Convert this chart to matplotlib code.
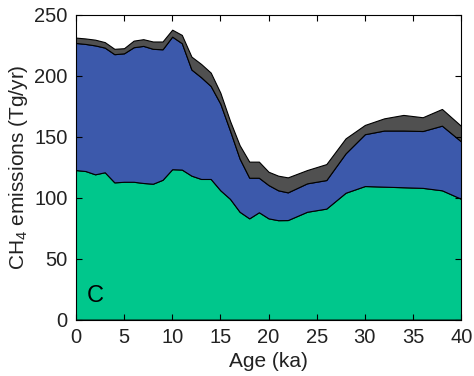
import numpy as np
import matplotlib.pyplot as plt

plt.rcParams['font.family'] = ['Liberation Sans', 'DejaVu Sans']
plt.rcParams['mathtext.fontset'] = 'custom'
plt.rcParams['mathtext.rm'] = 'Liberation Sans'

# age in ka
age = [0, 1, 2, 3, 4, 5, 6, 7, 8, 9, 10, 11, 12, 13, 14, 15, 16, 17, 18, 19,
       20, 21, 22, 24, 26, 28, 30, 32, 34, 36, 38, 40]

# cumulative CH4 emissions (Tg/yr) for each layer
green_top = [122.6, 121.8, 119.1, 120.8, 112.5, 113.0, 113.0, 112.0, 111.4, 114.6,
             123.3, 123.0, 118.0, 115.3, 115.3, 106.0, 99.0, 88.4, 83.0, 88.0,
             83.0, 81.5, 81.6, 88.4, 91.0, 104.0, 109.5, 109.0, 108.5, 108.0,
             106.0, 99.0]
blue_top = [226.8, 226.0, 224.8, 223.0, 217.6, 218.3, 223.3, 224.4, 222.0, 221.6,
            232.0, 226.6, 205.0, 198.7, 191.5, 177.0, 155.0, 132.0, 116.3, 116.3,
            110.3, 106.0, 104.3, 111.7, 114.4, 136.3, 152.0, 155.0, 155.0, 154.6,
            159.0, 146.0]
total = [231.2, 230.5, 229.5, 227.5, 222.0, 222.5, 228.7, 229.9, 228.0, 228.0,
         237.7, 233.4, 215.6, 209.6, 202.5, 186.0, 163.0, 143.0, 129.5, 129.5,
         121.2, 118.0, 116.6, 122.6, 127.5, 148.6, 159.6, 165.0, 167.8, 165.9,
         172.7, 158.7]

age = np.array(age)
layers = [np.array(green_top),
          np.array(blue_top) - np.array(green_top),
          np.array(total) - np.array(blue_top)]
colors = ['#00c78c', '#3c59ab', '#505050']
txt = '#222222'

fig = plt.figure(figsize=(4.74, 3.76), dpi=100)
ax = fig.add_axes([0.160, 0.150, 0.813, 0.811])

ax.stackplot(age, *layers, colors=colors, edgecolor='black', linewidth=0.8)

ax.set_xlim(0, 40)
ax.set_ylim(0, 250)
ax.set_xticks(np.arange(0, 41, 5))
ax.set_yticks(np.arange(0, 251, 50))
ax.tick_params(direction='in', top=True, right=True, length=4, width=0.8,
               labelsize=14.5, labelcolor=txt, pad=6)
for s in ax.spines.values():
    s.set_linewidth(0.8)
    s.set_zorder(5)

ax.set_xlabel('Age (ka)', fontsize=15, color=txt, labelpad=4)
ax.set_ylabel('CH$_4$ emissions (Tg/yr)', fontsize=15, color=txt, labelpad=3)
ax.text(2.0, 19.5, 'C', fontsize=17, color='black', ha='center', va='center')

fig.savefig('out.png', dpi=100)
